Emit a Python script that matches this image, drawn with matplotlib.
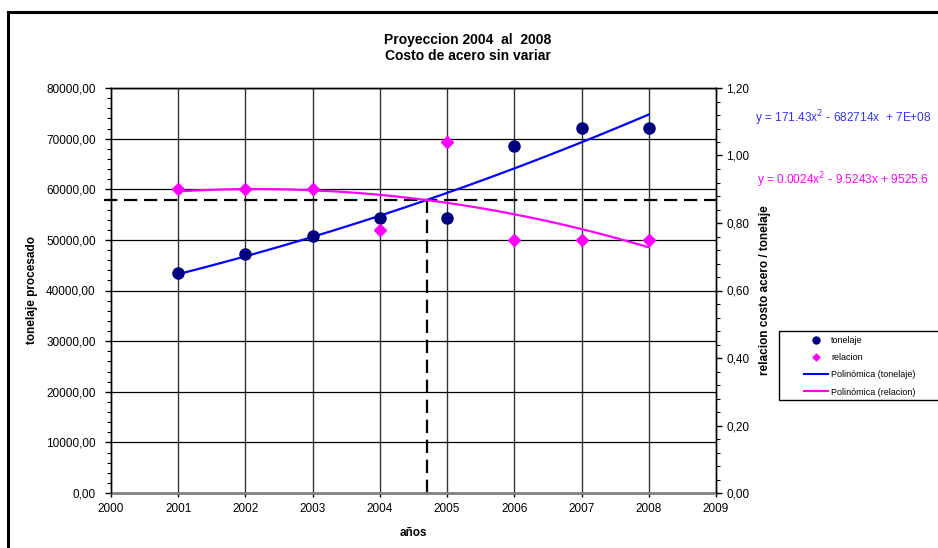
import numpy as np
import matplotlib.pyplot as plt
from matplotlib.patches import Rectangle
from matplotlib.lines import Line2D
from matplotlib.ticker import FuncFormatter, MultipleLocator

plt.rcParams['font.family'] = ['Liberation Sans', 'DejaVu Sans']

# Datos
anios = [2001, 2002, 2003, 2004, 2005, 2006, 2007, 2008]
tonelaje = [43500, 47200, 50700, 54300, 54300, 68600, 72100, 72100]
relacion = [0.90, 0.90, 0.90, 0.78, 1.04, 0.75, 0.75, 0.75]

eq_tonelaje = 'y = 171.43x$^2$ - 682714x  + 7E+08'
eq_relacion = 'y = 0.0024x$^2$ - 9.5243x + 9525.6'

c_ton = '#000080'
c_rel = '#FF00FF'
c_fit_ton = '#0000FF'

fig = plt.figure(figsize=(9.38, 5.48), dpi=100)
ax = fig.add_axes([111/938, 1 - 493/548, 605/938, 405/548])
ax2 = ax.twinx()

# Ajuste polinomico de grado 2
x = np.array(anios, dtype=float)
p_ton = np.polynomial.Polynomial.fit(x, tonelaje, 2)
p_rel = np.polynomial.Polynomial.fit(x, relacion, 2)
xs = np.linspace(2001, 2008, 200)

ax.plot(xs, p_ton(xs), color=c_fit_ton, lw=1.6, zorder=3)
ax.plot(x, tonelaje, 'o', color=c_ton, ms=8, zorder=4)
ax2.plot(xs, p_rel(xs), color=c_rel, lw=1.6, zorder=3)
ax2.plot(x, relacion, 'D', color=c_rel, ms=6.5, zorder=4)

# Cruce de ambas tendencias (en escala del eje izquierdo)
escala = 80000 / 1.2
dif = p_ton - p_rel * escala
raices = [r.real for r in dif.roots() if abs(r.imag) < 1e-9 and 2001 <= r.real <= 2008]
xc = raices[0]
yc = p_ton(xc)
ax.plot([1999.9, 2009], [yc, yc], color='black', lw=1.6, ls=(0, (6, 3)),
        clip_on=False, zorder=2)
ax.plot([xc, xc], [0, yc], color='black', lw=1.6, ls=(0, (6, 3)), zorder=2)

# Ejes
ax.set_xlim(2000, 2009)
ax.set_ylim(0, 80000)
ax2.set_ylim(0, 1.2)
ax.set_xticks(range(2000, 2010))
ax.yaxis.set_major_locator(MultipleLocator(10000))
ax.yaxis.set_minor_locator(MultipleLocator(2000))
ax2.yaxis.set_major_locator(MultipleLocator(0.2))
ax2.yaxis.set_minor_locator(MultipleLocator(0.04))
coma = FuncFormatter(lambda v, pos: f'{v:.2f}'.replace('.', ','))
ax.yaxis.set_major_formatter(coma)
ax2.yaxis.set_major_formatter(coma)

for a in (ax, ax2):
    a.tick_params(which='major', length=4, width=1, labelsize=8.5, color='black')
    a.tick_params(which='minor', length=3, width=0.8, color='black')
    for s in a.spines.values():
        s.set_color('black')
        s.set_linewidth(1)
ax.tick_params(axis='y', pad=7)
ax.tick_params(axis='x', length=3, pad=4)
ax.spines['bottom'].set_color('#808080')
ax.spines['bottom'].set_linewidth(2)
ax2.spines['bottom'].set_visible(False)

for yr in range(2001, 2009):
    ax.axvline(yr, color='#333333', lw=1, zorder=1)
for v in range(10000, 80001, 10000):
    ax.axhline(v, color='black', lw=0.9, zorder=1)

ax.set_xlabel('años', fontsize=8.5, fontweight='bold', labelpad=9)
ax.set_ylabel('tonelaje procesado', fontsize=8.5, fontweight='bold', labelpad=6)
ax2.set_ylabel('relacion costo acero / tonelaje', fontsize=8.5, fontweight='bold', labelpad=7)

fig.text(468/938, 1 - 40/548, 'Proyeccion 2004  al  2008', ha='center', va='center',
         fontsize=10, fontweight='bold')
fig.text(468/938, 1 - 56/548, 'Costo de acero sin variar', ha='center', va='center',
         fontsize=10, fontweight='bold')

fig.text(755/938, 1 - 118/548, eq_tonelaje, color='#3333FF', fontsize=8.6, va='center')
fig.text(757/938, 1 - 180/548, eq_relacion, color=c_rel, fontsize=8.6, va='center')

# Leyenda (marco dibujado aparte, sale del borde derecho)
handles = [
    Line2D([0], [0], marker='o', color='w', markerfacecolor=c_ton, markeredgecolor=c_ton,
           ms=5, label='tonelaje'),
    Line2D([0], [0], marker='D', color='w', markerfacecolor=c_rel, markeredgecolor=c_rel,
           ms=3.5, label='relacion'),
    Line2D([0], [0], color=c_fit_ton, lw=1.5, label='Polinómica (tonelaje)'),
    Line2D([0], [0], color=c_rel, lw=1.5, label='Polinómica (relacion)'),
]
fig.legend(handles=handles, loc='upper left', bbox_to_anchor=(797/938, 1 - 329/548),
           fontsize=6.5, frameon=False, borderpad=0.3, labelspacing=0.9,
           handlelength=2.6, handletextpad=0.4)
fig.patches.append(Rectangle((779/938, 1 - 400/548), 0.3, 69/548, transform=fig.transFigure,
                             fill=False, edgecolor='black', lw=1))

# Marco del grafico
fig.patches.append(Rectangle((8/938, -0.1), 1.2, 0.1 + 1 - 12/548, transform=fig.transFigure,
                             fill=False, edgecolor='black', lw=2.2))

fig.savefig('out.png', dpi=100)
